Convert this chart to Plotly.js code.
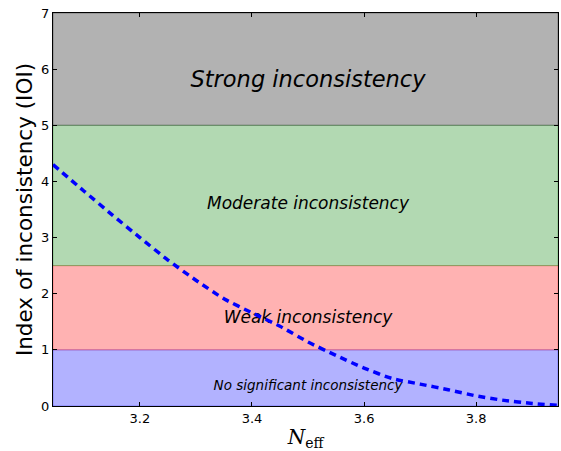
<!DOCTYPE html>
<html>
<head>
<meta charset="utf-8">
<script src="https://cdn.plot.ly/plotly-3.0.1.min.js"></script>
<style>html,body{margin:0;padding:0;background:#fff;}#chart{width:561px;height:451px;}</style>
</head>
<body>
<div id="chart"></div>
<script>
// Curve: index of inconsistency vs N_eff
const nEff = [3.045, 3.10, 3.15, 3.20, 3.25, 3.30, 3.35, 3.40, 3.45, 3.50, 3.55, 3.60, 3.65, 3.70, 3.75, 3.80, 3.85, 3.90, 3.946];
const ioi  = [4.30, 3.83, 3.41, 3.00, 2.60, 2.24, 1.91, 1.66, 1.42, 1.14, 0.90, 0.675, 0.49, 0.39, 0.29, 0.18, 0.10, 0.045, 0.01];

// Bands: [lower, upper]
const bandLower = [0, 1, 2.5, 5];
const bandUpper = [1, 2.5, 5, 7];
const bandColors = ['rgba(0,0,255,0.3)', 'rgba(255,0,0,0.3)', 'rgba(0,128,0,0.3)', 'rgba(0,0,0,0.3)'];
const bandLabels = ['No significant inconsistency', 'Weak inconsistency', 'Moderate inconsistency', 'Strong inconsistency'];
const labelY = [0.35, 1.56, 3.58, 5.79];
const labelX = [3.5, 3.5, 3.5, 3.5];
const labelSizes = [13.5, 17, 17, 22.5];

const xRange = [3.045, 3.946];
const yRange = [0, 7];
const xTicks = [3.2, 3.4, 3.6, 3.8];
const yTicks = [0, 1, 2, 3, 4, 5, 6, 7];

const shapes = bandLower.map((lo, i) => ({
  type: 'rect', xref: 'paper', yref: 'y', x0: 0, x1: 1, y0: lo, y1: bandUpper[i],
  fillcolor: bandColors[i], line: {color: bandColors[i], width: 1}, layer: 'below'
}));

const textTrace = {
  x: labelX, y: labelY, text: bandLabels, mode: 'text', type: 'scatter',
  textposition: 'middle center', hoverinfo: 'skip', showlegend: false,
  textfont: {family: 'DejaVu Sans', size: labelSizes, color: '#000', style: 'italic'}
};

const lineTrace = {
  x: nEff, y: ioi, mode: 'lines', type: 'scatter', showlegend: false,
  line: {color: '#0000ff', width: 3.5, dash: '7px,5px', shape: 'spline', smoothing: 0.6}
};

const layout = {
  width: 561, height: 451,
  margin: {l: 53, r: 3, t: 13, b: 45},
  paper_bgcolor: '#fff', plot_bgcolor: '#fff',
  font: {family: 'DejaVu Sans', color: '#000'},
  showlegend: false,
  shapes: shapes,
  xaxis: {
    range: xRange, tickvals: xTicks, ticktext: xTicks.map(v => v.toFixed(1)),
    ticks: 'inside', ticklen: 4, tickwidth: 1, tickcolor: '#000',
    showline: true, linecolor: '#000', linewidth: 1, mirror: 'ticks',
    showgrid: false, zeroline: false,
    tickfont: {family: 'DejaVu Sans', size: 13, color: '#000'},
    title: {text: '<i>N</i><sub>eff</sub>', font: {family: 'DejaVu Serif', size: 20, color: '#000'}, standoff: 6}
  },
  yaxis: {
    range: yRange, tickvals: yTicks,
    ticks: 'inside', ticklen: 4, tickwidth: 1, tickcolor: '#000',
    showline: true, linecolor: '#000', linewidth: 1, mirror: 'ticks',
    showgrid: false, zeroline: false,
    tickfont: {family: 'DejaVu Sans', size: 13, color: '#000'},
    title: {text: 'Index of inconsistency (IOI)', font: {family: 'DejaVu Sans', size: 21.5, color: '#000'}, standoff: 2}
  }
};

Plotly.newPlot('chart', [textTrace, lineTrace], layout, {displayModeBar: false, staticPlot: true});
</script>
</body>
</html>
